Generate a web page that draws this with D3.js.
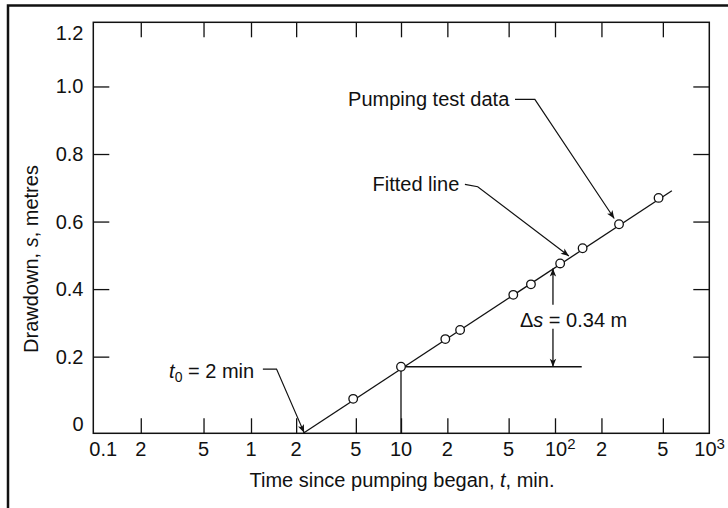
<!DOCTYPE html>
<html>
<head>
<meta charset="utf-8">
<script src="https://cdn.jsdelivr.net/npm/d3@7"></script>
<style>
  body { margin: 0; background: #fff; }
  svg text { font-family: "Liberation Sans", Arial, Helvetica, sans-serif; fill: #111; }
</style>
</head>
<body>
<div id="drawing"></div>
<script>
// ---- data ----
// pumping test observations (time in min, drawdown in m)
var pumpT = [4.8, 10, 19.4, 24.2, 53.6, 69.8, 108, 151, 260, 469];
var pumpS = [0.075, 0.170, 0.252, 0.279, 0.383, 0.414, 0.476, 0.521, 0.592, 0.670];
// fitted straight line end points
var fitT = [2.23, 572];
var fitS = [-0.027, 0.691];
// axis ticks and labels
var tTicks = [0.2, 0.5, 1, 2, 5, 10, 20, 50, 100, 200, 500];
var tLabelVals = [0.1, 0.2, 0.5, 1, 2, 5, 10, 20, 50, 100, 200, 500, 1000];
var tLabelText = ["0.1", "2", "5", "1", "2", "5", "10", "2", "5", "10", "2", "5", "10"];
var tLabelSup = ["", "", "", "", "", "", "", "", "", "2", "", "", "3"];
var sTicks = [0.2, 0.4, 0.6, 0.8, 1.0];
var sLabelVals = [0, 0.2, 0.4, 0.6, 0.8, 1.0, 1.2];
// annotation geometry (data units)
var deltaT = 97, deltaTop = 0.461, deltaBase = 0.170;
var deltaLabelT = 132, deltaLabelS = 0.309;
var baseT = [10, 149];
var annT = {
  pump: { textT: 50.5, textS: 0.962, pathT: [55, 74, 242], pathS: [0.962, 0.962, 0.609] },
  fit:  { textT: 23.9, textS: 0.710, pathT: [26, 31.5, 123], pathS: [0.710, 0.703, 0.498] },
  t0:   { textT: 1.05, textS: 0.158, pathT: [1.2, 1.48, 2.26], pathS: [0.163, 0.163, -0.025] }
};

var W = 728, H = 508;
var box = { left: 93.3, right: 709.3, top: 22.3, bottom: 433.3 };
var ink = "#111";

var svg = d3.select("#drawing").append("svg")
  .attr("width", W).attr("height", H);

// scales: log time axis (decades drawn slightly unequal in the original)
var xScale = d3.scaleLog()
  .domain([0.1, 1, 10, 100, 1000])
  .range([box.left, 251, 401, 555, box.right]);
var yScale = d3.scaleLinear()
  .domain([-0.027, 1.19])
  .range([box.bottom, box.top]);

// arrow marker
var defs = svg.append("defs");
defs.append("marker")
  .attr("id", "arr")
  .attr("viewBox", "0 -5 10 10")
  .attr("refX", 10).attr("refY", 0)
  .attr("markerWidth", 10).attr("markerHeight", 8)
  .attr("markerUnits", "userSpaceOnUse")
  .attr("orient", "auto-start-reverse")
  .append("path")
  .attr("d", "M0,-4L10,0L0,4L2.5,0Z")
  .attr("fill", ink);

// outer page frame (left and top only)
svg.append("path")
  .attr("d", "M8,508V5.5H728")
  .attr("fill", "none").attr("stroke", ink).attr("stroke-width", 2.5);

// plot box
svg.append("rect")
  .attr("x", box.left).attr("y", box.top)
  .attr("width", box.right - box.left).attr("height", box.bottom - box.top)
  .attr("fill", "none").attr("stroke", ink).attr("stroke-width", 1.5);

// inward ticks with d3 axes
function tickAxis(axis, tx, ty) {
  var g = svg.append("g").attr("transform", "translate(" + tx + "," + ty + ")")
    .call(axis.tickFormat("").tickSizeOuter(0));
  g.select(".domain").remove();
  g.selectAll("line").attr("stroke", ink).attr("stroke-width", 1.3);
  return g;
}
tickAxis(d3.axisBottom(xScale).tickValues(tTicks).tickSizeInner(-15), 0, box.bottom);
tickAxis(d3.axisTop(xScale).tickValues(tTicks).tickSizeInner(-15), 0, box.top);
tickAxis(d3.axisLeft(yScale).tickValues(sTicks).tickSizeInner(-16), box.left, 0);
tickAxis(d3.axisRight(yScale).tickValues(sTicks).tickSizeInner(-16), box.right, 0);

// x tick labels
tLabelVals.forEach(function(v, i) {
  var x = xScale(v);
  var t = svg.append("text").attr("y", 456).attr("font-size", 20);
  if (i === 0) {
    t.attr("x", x - 4).attr("text-anchor", "start").text(tLabelText[i]);
  } else if (tLabelSup[i]) {
    var shift = (i === tLabelVals.length - 1) ? -15 : -10;
    t.attr("x", x + shift).attr("text-anchor", "start");
    t.append("tspan").text(tLabelText[i]);
    t.append("tspan").attr("font-size", 15).attr("dy", -7).text(tLabelSup[i]);
  } else {
    t.attr("x", x).attr("text-anchor", "middle").text(tLabelText[i]);
  }
});

// y tick labels
sLabelVals.forEach(function(v) {
  var y = Math.max(yScale(v), box.top + 11);
  svg.append("text")
    .attr("x", 83.5).attr("y", y).attr("dy", "0.35em")
    .attr("text-anchor", "end").attr("font-size", 20)
    .text(v === 0 ? "0" : d3.format(".1f")(v));
});

// axis titles
var xt = svg.append("text")
  .attr("x", 402).attr("y", 487).attr("text-anchor", "middle").attr("font-size", 20);
xt.append("tspan").text("Time since pumping began, ");
xt.append("tspan").attr("font-style", "italic").text("t");
xt.append("tspan").text(", min.");

var yt = svg.append("text")
  .attr("transform", "translate(38,259) rotate(-90)")
  .attr("text-anchor", "middle").attr("font-size", 20);
yt.append("tspan").text("Drawdown, ");
yt.append("tspan").attr("font-style", "italic").text("s");
yt.append("tspan").text(", metres");

// fitted line
var lineGen = d3.line().x(function(d) { return xScale(d[0]); }).y(function(d) { return yScale(d[1]); });
svg.append("path")
  .attr("d", lineGen(d3.zip(fitT, fitS)))
  .attr("fill", "none").attr("stroke", ink).attr("stroke-width", 1.3);

// reference lines at t = 10
var ymin = yScale.domain()[0];
svg.append("path")
  .attr("d", lineGen([[baseT[0], ymin], [baseT[0], deltaBase], [baseT[1], deltaBase]]))
  .attr("fill", "none").attr("stroke", ink).attr("stroke-width", 1.3);

// delta s double arrow with label gap
var dl = svg.append("text")
  .attr("x", xScale(deltaLabelT)).attr("y", yScale(deltaLabelS)).attr("dy", "0.35em")
  .attr("text-anchor", "middle").attr("font-size", 20);
dl.append("tspan").text("\u0394");
dl.append("tspan").attr("font-style", "italic").text("s");
dl.append("tspan").text(" = 0.34 m");
var gapTop = yScale(deltaLabelS) - 15, gapBot = yScale(deltaLabelS) + 9;
svg.append("line")
  .attr("x1", xScale(deltaT)).attr("x2", xScale(deltaT))
  .attr("y1", gapTop).attr("y2", yScale(deltaTop))
  .attr("stroke", ink).attr("stroke-width", 1.3).attr("marker-end", "url(#arr)");
svg.append("line")
  .attr("x1", xScale(deltaT)).attr("x2", xScale(deltaT))
  .attr("y1", gapBot).attr("y2", yScale(deltaBase))
  .attr("stroke", ink).attr("stroke-width", 1.3).attr("marker-end", "url(#arr)");

// data points
svg.selectAll(".pt")
  .data(d3.zip(pumpT, pumpS))
  .enter().append("circle")
  .attr("class", "pt")
  .attr("cx", function(d) { return xScale(d[0]); })
  .attr("cy", function(d) { return yScale(d[1]); })
  .attr("r", 4.3)
  .attr("fill", "#fff").attr("stroke", ink).attr("stroke-width", 1.3);

// leader annotations
function leader(a) {
  svg.append("path")
    .attr("d", lineGen(d3.zip(a.pathT, a.pathS)))
    .attr("fill", "none").attr("stroke", ink).attr("stroke-width", 1.2)
    .attr("marker-end", "url(#arr)");
  return svg.append("text")
    .attr("x", xScale(a.textT)).attr("y", yScale(a.textS)).attr("dy", "0.35em")
    .attr("text-anchor", "end").attr("font-size", 20);
}
leader(annT.pump).text("Pumping test data");
leader(annT.fit).text("Fitted line");
var t0 = leader(annT.t0);
t0.append("tspan").attr("font-style", "italic").text("t");
t0.append("tspan").attr("font-size", 14).attr("dy", 4).text("0");
t0.append("tspan").attr("dy", -4).text(" = 2 min");
</script>
</body>
</html>
